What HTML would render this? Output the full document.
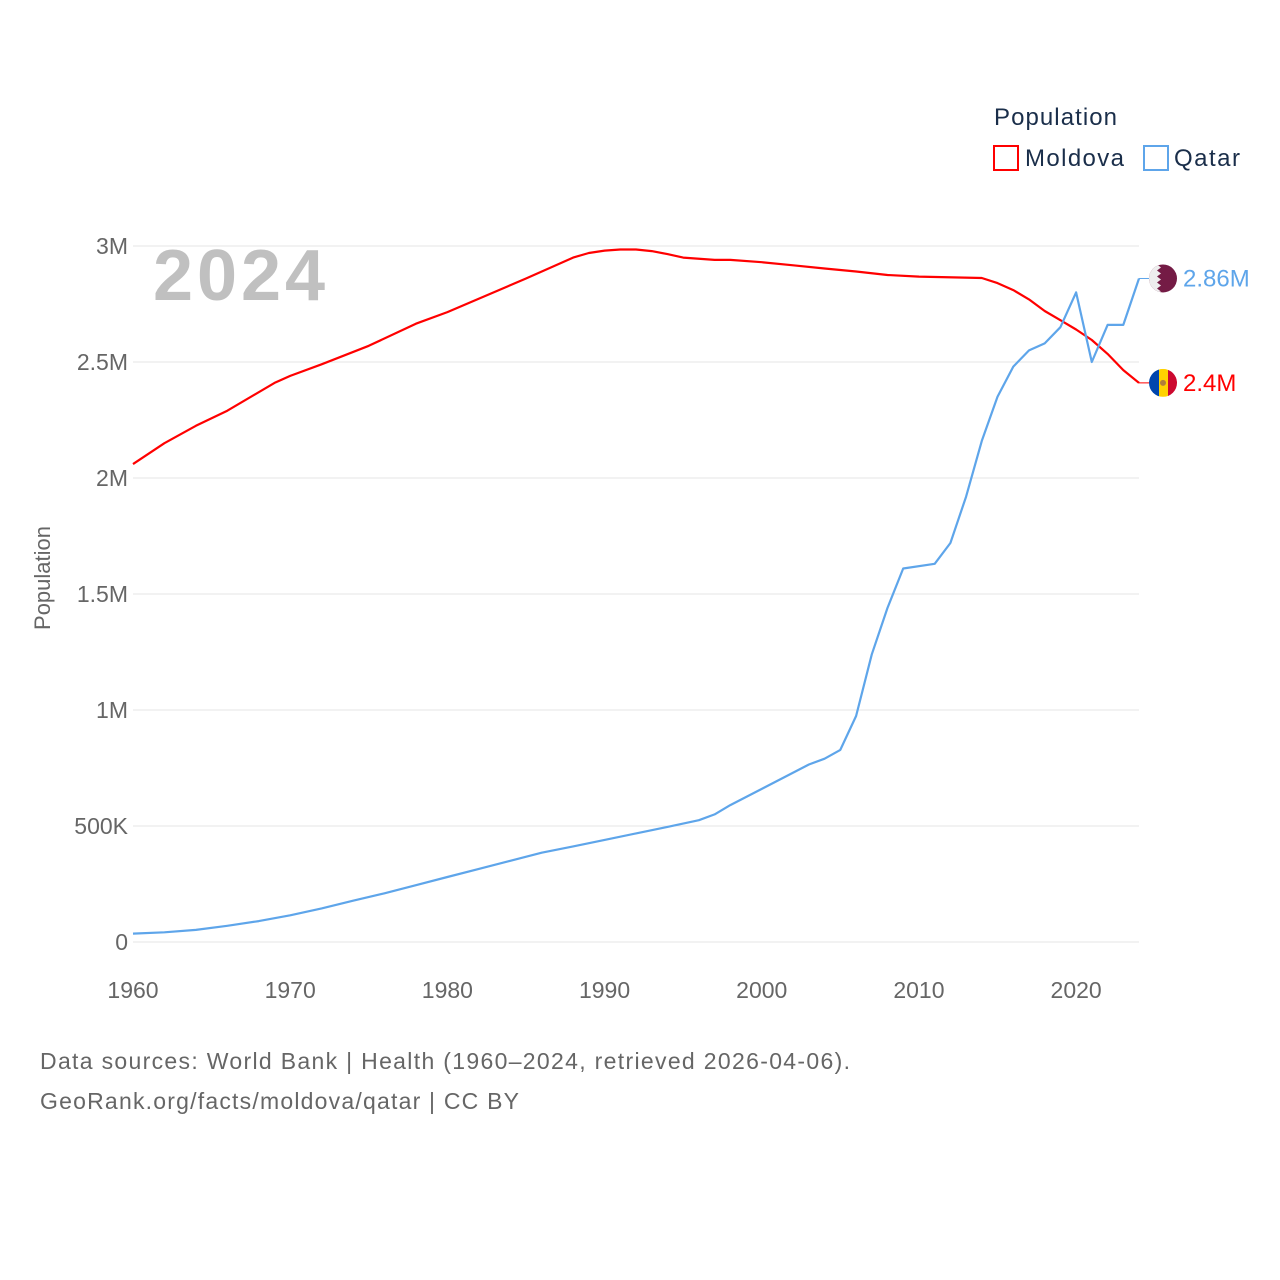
<!DOCTYPE html>
<html><head><meta charset="utf-8"><style>
body{margin:0;background:#fff;}
svg{display:block;font-family:"Liberation Sans",sans-serif;}
</style></head><body>
<svg id="c" width="1280" height="1280" viewBox="0 0 1280 1280">
<text x="994" y="125" font-size="24" fill="#1a2e4a" textLength="123">Population</text>
<g><rect x="994" y="146" width="24" height="24" fill="none" stroke="#f00" stroke-width="2"/><text x="1025" y="166" font-size="24" fill="#1a2e4a" textLength="99">Moldova</text></g>
<g><rect x="1144" y="146" width="24" height="24" fill="none" stroke="#5ea5ea" stroke-width="2"/><text x="1174" y="166" font-size="24" fill="#1a2e4a" textLength="66">Qatar</text></g>
<text x="153" y="300" font-size="72" font-weight="bold" fill="#c0c0c0" textLength="172">2024</text>
<text transform="translate(50,578) rotate(-90)" text-anchor="middle" font-size="22" fill="#666">Population</text>
<g id="grid"></g><g id="lines"></g>
<text x="40" y="1069" font-size="23" fill="#666" textLength="810">Data sources: World Bank | Health (1960–2024, retrieved 2026-04-06).</text>
<text x="40" y="1109" font-size="23" fill="#666" textLength="479">GeoRank.org/facts/moldova/qatar | CC BY</text>
</svg>
<script>
const yTicks=[0,500000,1000000,1500000,2000000,2500000,3000000];
const yTickLabels=["0","500K","1M","1.5M","2M","2.5M","3M"];
const xTicks=[1960,1970,1980,1990,2000,2010,2020];
const moldovaYears=[1960,1962,1964,1966,1969,1970,1972,1975,1978,1980,1985,1988,1989,1990,1991,1992,1993,1994,1995,1997,1998,2000,2002,2004,2006,2008,2010,2014,2015,2016,2017,2018,2019,2020,2021,2022,2023,2024];
const moldovaValues=[2060000,2150000,2225000,2290000,2410000,2440000,2490000,2570000,2665000,2715000,2860000,2950000,2970000,2980000,2985000,2985000,2978000,2965000,2950000,2940000,2940000,2930000,2917000,2903000,2890000,2875000,2868000,2862000,2840000,2810000,2770000,2720000,2680000,2640000,2595000,2535000,2465000,2410000];
const qatarYears=[1960,1962,1964,1966,1968,1970,1972,1974,1976,1978,1980,1982,1984,1986,1988,1990,1992,1994,1996,1997,1998,2000,2002,2003,2004,2005,2006,2007,2008,2009,2011,2012,2013,2014,2015,2016,2017,2018,2019,2020,2021,2022,2023,2024];
const qatarValues=[36000,42000,52000,70000,90000,115000,145000,178000,210000,245000,280000,315000,350000,385000,412000,440000,468000,496000,525000,550000,590000,660000,730000,765000,790000,828000,974000,1240000,1440000,1610000,1630000,1720000,1920000,2160000,2350000,2480000,2550000,2580000,2650000,2800000,2500000,2660000,2660000,2860000];
const X=y=>133+(y-1960)*(1139-133)/64;
const Y=v=>942-v*696/3e6;
const NS="http://www.w3.org/2000/svg";
const grid=document.getElementById('grid'),lines=document.getElementById('lines'),svg=document.getElementById('c');
function mk(t,a,p){const e=document.createElementNS(NS,t);for(const k in a)e.setAttribute(k,a[k]);(p||svg).appendChild(e);return e;}
yTicks.forEach((v,i)=>{
 const l=mk('line',{x1:133,x2:1139,y1:Y(v),y2:Y(v),stroke:'#e6e6e6','stroke-width':1},grid);
 
 
 const t=mk('text',{x:128,y:Y(v)+8,'text-anchor':'end','font-size':23,fill:'#666'},grid);t.textContent=yTickLabels[i];
 
 
});
xTicks.forEach(y=>{
 const t=mk('text',{x:X(y),y:998,'text-anchor':'middle','font-size':23,fill:'#666'},grid);t.textContent=y;
 
 
});
function series(ys,vs,col,name,label,flag){
 const d=ys.map((y,i)=>(i?'L':'M')+X(y).toFixed(1)+' '+Y(vs[i]).toFixed(1)).join(' ');
 const p=mk('path',{d:d,fill:'none',stroke:col,'stroke-width':2.2,'stroke-linejoin':'round'},lines);
 
 
 const ly=Y(vs[vs.length-1]);
 mk('line',{x1:1139,x2:1149,y1:ly,y2:ly,stroke:col,'stroke-width':1},lines);
 const g=mk('g',{},lines);
 
 
 g.innerHTML=flag(1163,ly);
 const t=mk('text',{x:1183,y:ly+8,'font-size':24,fill:col},lines);t.textContent=label;
 
 
}
series(moldovaYears,moldovaValues,'#ff0000','moldova','2.4M',(cx,cy)=>`<clipPath id="cm"><circle cx="${cx}" cy="${cy}" r="14"/></clipPath><g clip-path="url(#cm)"><rect x="${cx-14}" y="${cy-14}" width="10" height="28" fill="#0046ae"/><rect x="${cx-4}" y="${cy-14}" width="9" height="28" fill="#ffd200"/><rect x="${cx+5}" y="${cy-14}" width="10" height="28" fill="#cc092f"/><circle cx="${cx}" cy="${cy}" r="3" fill="#b07e3a"/></g>`);
series(qatarYears,qatarValues,'#5ea5ea','qatar','2.86M',(cx,cy)=>`<clipPath id="cq"><circle cx="${cx}" cy="${cy}" r="14"/></clipPath><g clip-path="url(#cq)"><rect x="${cx-14}" y="${cy-14}" width="28" height="28" fill="#741b45"/><path d="M${cx-14} ${cy-14}H${cx-6}L${cx-2} ${cy-11}L${cx-6} ${cy-8}L${cx-2} ${cy-5}L${cx-6} ${cy-2}L${cx-2} ${cy+1}L${cx-6} ${cy+4}L${cx-2} ${cy+7}L${cx-6} ${cy+10}L${cx-2} ${cy+13}L${cx-6} ${cy+14}H${cx-14}Z" fill="#eee"/></g>`);
</script>
</body></html>
